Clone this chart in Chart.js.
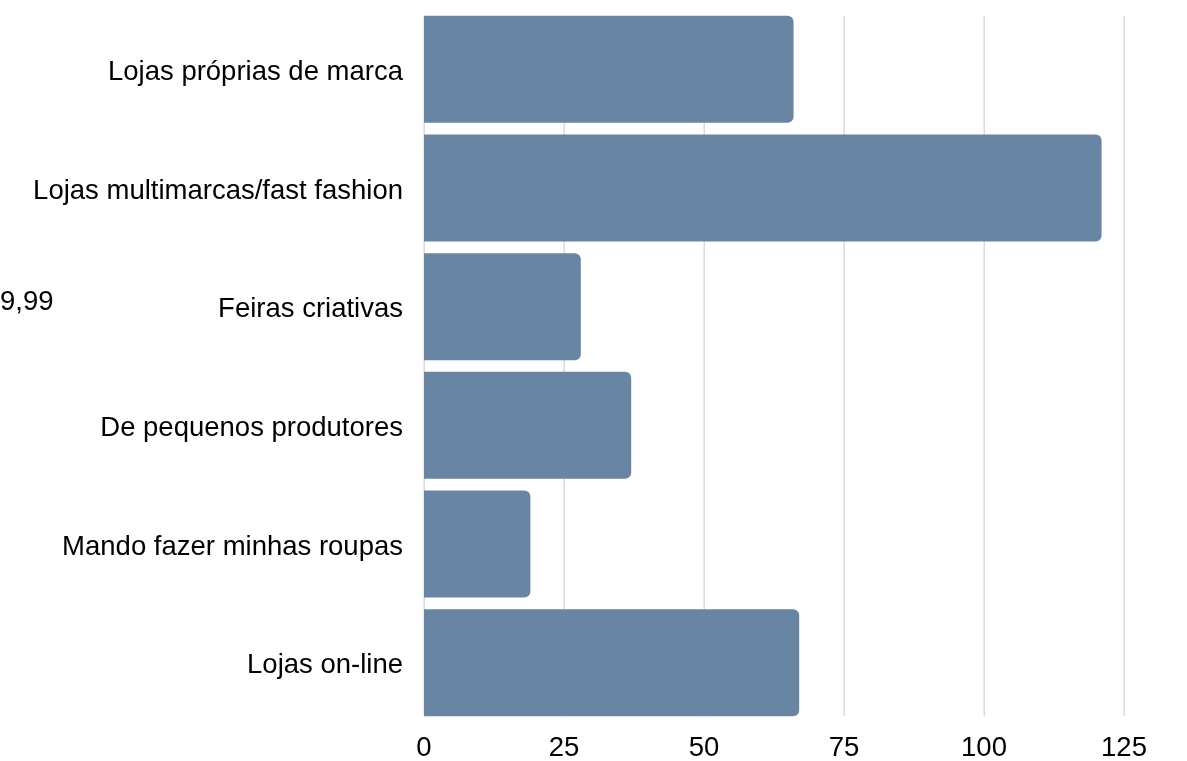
<!DOCTYPE html>
<html>
<head>
<meta charset="utf-8">
<script src="https://cdn.jsdelivr.net/npm/chart.js@4/dist/chart.umd.min.js"></script>
<style>
  html, body { margin: 0; padding: 0; background: #fff; }
  #wrap { position: relative; width: 1187px; height: 761px; }
  #stray { position: absolute; left: 0; top: 285px; font: 27.5px "Liberation Sans", Arial, sans-serif; color: #000; }
</style>
</head>
<body>
<div id="wrap">
  <canvas id="c" width="1187" height="761"></canvas>
  <div id="stray">9,99</div>
</div>
<script>
const categories = [
  "Lojas próprias de marca",
  "Lojas multimarcas/fast fashion",
  "Feiras criativas",
  "De pequenos produtores",
  "Mando fazer minhas roupas",
  "Lojas on-line"
];
const values = [66, 121, 28, 37, 19, 67];
const xTicks = [0, 25, 50, 75, 100, 125];

const FONT = { family: '"Liberation Sans", Arial, sans-serif', size: 27.5 };

// vertical grid lines spanning exactly from the first bar's top to the last bar's bottom
const gridPlugin = {
  id: 'barSpanGrid',
  beforeDatasetsDraw(chart) {
    const meta = chart.getDatasetMeta(0);
    if (!meta.data.length) return;
    const first = meta.data[0], last = meta.data[meta.data.length - 1];
    const top = first.y - first.height / 2;
    const bottom = last.y + last.height / 2;
    const xs = chart.scales.x;
    const ctx = chart.ctx;
    ctx.save();
    ctx.strokeStyle = '#dadada';
    ctx.lineWidth = 1.5;
    xTicks.forEach(v => {
      const px = Math.round(xs.getPixelForValue(v)) + 0.25;
      ctx.beginPath();
      ctx.moveTo(px, top);
      ctx.lineTo(px, bottom);
      ctx.stroke();
    });
    ctx.restore();
  }
};

new Chart(document.getElementById('c'), {
  type: 'bar',
  data: {
    labels: categories,
    datasets: [{
      data: values,
      backgroundColor: '#6886a4',
      borderRadius: 6,
      barPercentage: 0.9017,
      categoryPercentage: 1.0
    }]
  },
  options: {
    indexAxis: 'y',
    responsive: false,
    animation: false,
    layout: { padding: { top: 10, right: 63, left: 0, bottom: 0 } },
    plugins: { legend: { display: false }, tooltip: { enabled: false } },
    scales: {
      x: {
        min: 0, max: 125,
        afterBuildTicks: (axis) => { axis.ticks = xTicks.map(v => ({ value: v })); },
        afterFit: (axis) => { axis.height = 39; axis.paddingLeft = 0; axis.paddingRight = 0; },
        grid: { display: false, drawTicks: false },
        border: { display: false },
        ticks: { color: '#000', font: FONT, padding: 10 }
      },
      y: {
        afterFit: (axis) => { axis.width = 424; axis.paddingTop = 0; axis.paddingBottom = 0; },
        grid: { display: false, drawTicks: false },
        border: { display: false },
        ticks: { color: '#000', font: FONT, padding: 21, labelOffset: 3 }
      }
    }
  },
  plugins: [gridPlugin]
});
</script>
</body>
</html>
